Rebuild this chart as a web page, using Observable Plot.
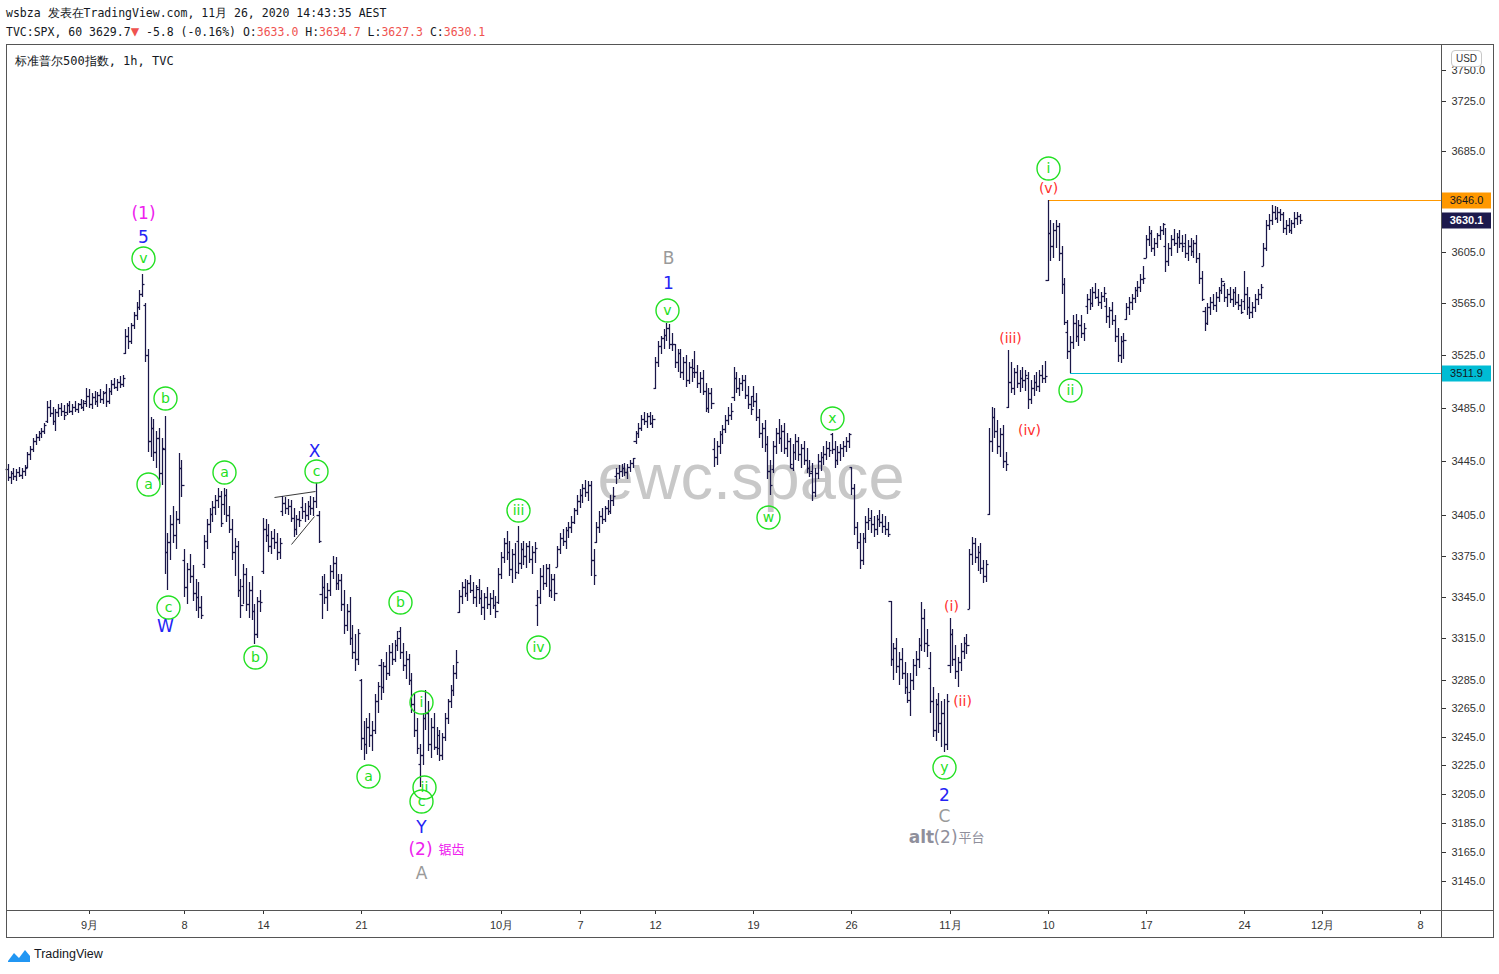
<!DOCTYPE html>
<html><head><meta charset="utf-8">
<script src="https://cdn.jsdelivr.net/npm/d3@7"></script>
<script src="https://cdn.jsdelivr.net/npm/@observablehq/plot@0.6"></script>
<style>
body{margin:0;background:#fff;}
#wrap{position:relative;width:1499px;height:974px;overflow:hidden;background:#fff;}
.mono{position:absolute;font:11.5px "DejaVu Sans Mono",monospace;color:#131722;white-space:pre;line-height:14px;}
.red{color:#ef5350;}
.box{position:absolute;box-sizing:border-box;}
</style></head>
<body><div id="wrap">
<div class="mono" style="left:6px;top:6px;">wsbza 发表在TradingView.com, 11月 26, 2020 14:43:35 AEST</div>
<div class="mono" style="left:6px;top:24px;">TVC:SPX, 60 3629.7<span class="red" style="font-size:14px;">▼</span> -5.8 (-0.16%) O:<span class="red">3633.0</span> H:<span class="red">3634.7</span> L:<span class="red">3627.3</span> C:<span class="red">3630.1</span></div>
<div id="chart"></div>
<div class="box" style="left:6px;top:44px;width:1488px;height:894px;border:1px solid #555;"></div>
<div class="box" style="left:1441px;top:44px;width:1px;height:894px;background:#555;"></div>
<div class="box" style="left:6px;top:910px;width:1488px;height:1px;background:#555;"></div>
<div class="mono" style="left:15px;top:54px;font-size:12px;">标准普尔500指数, 1h, TVC</div>
<div class="box" style="left:1451px;top:50px;width:31px;height:17px;border:1px solid #c8c8c8;border-radius:4px;background:#fff;font:10px 'Liberation Sans',Arial,sans-serif;color:#333;text-align:center;line-height:15px;">USD</div>
<div class="box" style="left:7px;top:947px;width:24px;height:16px;">
<svg width="24" height="16" viewBox="0 0 24 16"><path d="M1 14 L7 6 L12 11 L18 3 L23 9 L23 15 L1 15 Z" fill="#2196f3"/></svg></div>
<div class="box" style="left:34px;top:947px;font:12.5px 'Liberation Sans',Arial,sans-serif;color:#131722;">TradingView</div>
</div>
<script>
// hourly OHLC bars, Aug 25 – Nov 25 2020 (7 bars per session); index 0 = Aug 31 09:30 ET
const ohlc = [
// Aug 25
[3439,3443,3430,3433],[3433,3438,3428,3436],[3436,3440,3431,3434],[3434,3439,3430,3437],[3437,3441,3433,3435],[3435,3440,3432,3438],[3438,3442,3434,3440],
// Aug 26
[3441,3452,3440,3450],[3450,3456,3446,3454],[3454,3462,3452,3460],[3460,3465,3457,3463],[3463,3468,3460,3466],[3466,3470,3462,3468],[3468,3474,3465,3472],
// Aug 27
[3475,3490,3474,3486],[3486,3491,3478,3481],[3481,3486,3472,3475],[3475,3484,3468,3482],[3482,3488,3478,3485],[3485,3489,3479,3483],[3483,3487,3476,3480],
// Aug 28
[3482,3489,3480,3487],[3487,3490,3481,3483],[3483,3488,3480,3486],[3486,3490,3482,3484],[3484,3489,3481,3488],[3488,3492,3484,3486],[3486,3491,3483,3489],
// Aug 31
[3490,3500,3486,3494],[3494,3499,3485,3488],[3488,3496,3484,3493],[3493,3498,3487,3490],[3490,3497,3486,3495],[3495,3499,3489,3492],[3492,3498,3488,3496],
// Sep 1
[3497,3503,3486,3490],[3490,3500,3488,3498],[3498,3506,3495,3503],[3503,3508,3499,3501],[3501,3507,3498,3505],[3505,3509,3500,3503],[3503,3510,3501,3508],
// Sep 2
[3527,3545,3526,3540],[3540,3547,3530,3536],[3536,3550,3534,3548],[3548,3558,3545,3556],[3556,3566,3552,3562],[3562,3575,3560,3572],[3572,3588,3570,3580],
// Sep 3
[3564,3565,3520,3525],[3525,3530,3452,3460],[3460,3478,3448,3470],[3470,3477,3445,3452],[3452,3468,3440,3462],[3462,3470,3430,3436],[3436,3462,3427,3455],
// Sep 4
[3454,3479,3362,3378],[3378,3392,3350,3385],[3385,3405,3372,3398],[3398,3412,3384,3390],[3390,3408,3380,3402],[3402,3451,3398,3440],[3440,3446,3418,3427],
// Sep 8
[3372,3380,3345,3352],[3352,3370,3340,3365],[3365,3376,3355,3360],[3360,3368,3342,3348],[3348,3358,3335,3345],[3345,3356,3330,3338],[3338,3346,3329,3332],
// Sep 9
[3369,3390,3366,3386],[3386,3402,3380,3398],[3398,3410,3392,3406],[3406,3415,3400,3411],[3411,3420,3405,3416],[3416,3425,3410,3419],[3419,3423,3396,3399],
// Sep 10
[3413,3425,3405,3420],[3420,3424,3400,3405],[3405,3412,3392,3395],[3395,3402,3372,3378],[3378,3388,3360,3382],[3382,3386,3345,3350],[3350,3358,3330,3339],
// Sep 11
[3353,3369,3340,3362],[3362,3366,3335,3340],[3340,3356,3330,3350],[3350,3360,3328,3335],[3335,3340,3311,3318],[3318,3345,3315,3342],[3342,3350,3334,3341],
// Sep 14
[3364,3403,3362,3395],[3395,3402,3385,3390],[3390,3398,3378,3382],[3382,3393,3376,3388],[3388,3395,3380,3385],[3385,3392,3372,3378],[3378,3388,3373,3384],
// Sep 15
[3408,3419,3404,3414],[3414,3418,3406,3410],[3410,3417,3405,3412],[3412,3416,3400,3403],[3403,3410,3389,3395],[3395,3405,3390,3402],[3402,3408,3396,3401],
// Sep 16
[3411,3418,3402,3408],[3408,3414,3400,3405],[3405,3415,3401,3412],[3412,3419,3405,3410],[3410,3418,3404,3415],[3415,3429,3410,3405],[3405,3408,3384,3386],
// Sep 17
[3347,3360,3329,3352],[3352,3362,3340,3345],[3345,3355,3335,3350],[3350,3368,3346,3364],[3364,3375,3358,3370],[3370,3374,3350,3355],[3355,3362,3350,3357],
// Sep 18
[3357,3362,3335,3340],[3340,3350,3318,3325],[3325,3340,3320,3335],[3335,3345,3310,3315],[3315,3325,3300,3305],[3305,3318,3292,3300],[3300,3322,3296,3319],
// Sep 21
[3285,3286,3236,3244],[3244,3256,3229,3240],[3240,3258,3233,3252],[3252,3262,3238,3246],[3246,3256,3235,3250],[3250,3275,3247,3270],[3270,3284,3262,3281],
// Sep 22
[3296,3300,3271,3280],[3280,3298,3276,3295],[3295,3305,3285,3290],[3290,3310,3288,3305],[3305,3312,3296,3300],[3300,3314,3298,3310],[3310,3320,3306,3315],
// Sep 23
[3320,3323,3300,3305],[3305,3312,3292,3296],[3296,3306,3286,3300],[3300,3304,3282,3285],[3285,3290,3262,3268],[3268,3275,3245,3250],[3250,3258,3233,3237],
// Sep 24
[3226,3240,3210,3232],[3232,3262,3225,3258],[3258,3278,3250,3262],[3262,3270,3235,3240],[3240,3258,3230,3252],[3252,3262,3236,3238],[3238,3252,3232,3246],
// Sep 25
[3237,3250,3228,3232],[3232,3248,3229,3245],[3245,3262,3242,3258],[3258,3272,3254,3270],[3270,3282,3265,3278],[3278,3296,3274,3290],[3290,3307,3286,3298],
// Sep 28
[3334,3350,3333,3346],[3346,3356,3340,3352],[3352,3358,3345,3348],[3348,3357,3342,3355],[3355,3361,3348,3350],[3350,3356,3340,3345],[3345,3354,3338,3352],
// Sep 29
[3351,3358,3340,3344],[3344,3350,3332,3338],[3338,3348,3328,3345],[3345,3352,3336,3340],[3340,3348,3332,3344],[3344,3350,3336,3339],[3339,3346,3330,3335],
// Sep 30
[3341,3366,3340,3362],[3362,3378,3358,3374],[3374,3388,3370,3384],[3384,3393,3372,3378],[3378,3386,3360,3365],[3365,3380,3355,3376],[3376,3384,3358,3363],
// Oct 1
[3386,3397,3362,3370],[3370,3384,3365,3380],[3380,3386,3368,3375],[3375,3384,3366,3382],[3382,3386,3370,3373],[3373,3382,3362,3378],[3378,3385,3370,3381],
// Oct 2
[3339,3350,3324,3345],[3345,3366,3340,3360],[3360,3368,3350,3355],[3355,3369,3352,3366],[3366,3369,3345,3350],[3350,3362,3344,3358],[3358,3362,3342,3348],
// Oct 5
[3367,3382,3367,3380],[3380,3392,3376,3388],[3388,3395,3382,3386],[3386,3396,3380,3394],[3394,3400,3388,3396],[3396,3404,3392,3400],[3400,3410,3398,3409],
// Oct 6
[3409,3420,3405,3415],[3415,3424,3410,3420],[3420,3428,3414,3425],[3425,3431,3418,3422],[3422,3430,3415,3427],[3427,3430,3360,3372],[3372,3380,3354,3361],
// Oct 7
[3385,3400,3384,3396],[3396,3408,3392,3404],[3404,3410,3398,3402],[3402,3412,3400,3410],[3410,3416,3405,3408],[3408,3420,3406,3416],[3416,3426,3412,3419],
// Oct 8
[3434,3440,3428,3436],[3436,3442,3432,3438],[3438,3443,3433,3440],[3440,3444,3434,3437],[3437,3443,3432,3441],[3441,3446,3437,3444],[3444,3447,3440,3447],
// Oct 9
[3460,3468,3458,3466],[3466,3474,3462,3470],[3470,3480,3468,3477],[3477,3482,3472,3475],[3475,3481,3470,3479],[3479,3482,3472,3474],[3474,3480,3470,3477],
// Oct 12
[3500,3524,3499,3520],[3520,3536,3516,3532],[3532,3540,3526,3538],[3538,3545,3530,3541],[3541,3550,3536,3546],[3546,3549,3530,3534],[3534,3542,3528,3534],
// Oct 13
[3534,3534,3515,3520],[3520,3530,3512,3527],[3527,3530,3508,3512],[3512,3524,3506,3520],[3520,3525,3501,3506],[3506,3520,3503,3516],[3516,3522,3505,3512],
// Oct 14
[3515,3528,3508,3512],[3512,3518,3500,3504],[3504,3512,3496,3508],[3508,3514,3495,3498],[3498,3504,3482,3485],[3485,3500,3481,3496],[3496,3500,3484,3489],
// Oct 15
[3454,3462,3441,3448],[3448,3460,3442,3456],[3456,3468,3450,3465],[3465,3472,3458,3469],[3469,3480,3466,3476],[3476,3486,3472,3480],[3480,3489,3476,3483],
// Oct 16
[3493,3516,3490,3508],[3508,3512,3496,3500],[3500,3508,3494,3504],[3504,3510,3498,3506],[3506,3510,3492,3495],[3495,3502,3484,3488],[3488,3494,3480,3484],
// Oct 19
[3494,3502,3486,3490],[3490,3496,3475,3478],[3478,3484,3462,3466],[3466,3474,3455,3470],[3470,3476,3452,3458],[3458,3464,3432,3438],[3438,3446,3420,3427],
// Oct 20
[3439,3460,3436,3456],[3456,3470,3450,3466],[3466,3477,3458,3462],[3462,3472,3452,3468],[3468,3474,3450,3455],[3455,3466,3448,3460],[3460,3462,3440,3443],
// Oct 21
[3440,3458,3438,3452],[3452,3465,3446,3460],[3460,3463,3445,3450],[3450,3458,3440,3455],[3455,3460,3442,3446],[3446,3455,3436,3440],[3440,3446,3433,3436],
// Oct 22
[3438,3444,3415,3422],[3422,3440,3418,3436],[3436,3450,3432,3445],[3445,3452,3438,3448],[3448,3456,3442,3450],[3450,3460,3446,3455],[3455,3459,3448,3453],
// Oct 23
[3465,3466,3450,3454],[3454,3460,3440,3446],[3446,3456,3442,3452],[3452,3458,3445,3455],[3455,3460,3448,3456],[3456,3463,3452,3460],[3460,3466,3455,3465],
// Oct 26
[3441,3441,3420,3425],[3425,3428,3390,3396],[3396,3400,3380,3385],[3385,3392,3365,3372],[3372,3392,3368,3388],[3388,3404,3384,3400],[3400,3410,3394,3401],
// Oct 27
[3403,3409,3392,3398],[3398,3404,3389,3395],[3395,3405,3390,3402],[3402,3409,3396,3400],[3400,3406,3392,3397],[3397,3404,3390,3395],[3395,3400,3389,3391],
// Oct 28
[3342,3342,3295,3300],[3300,3312,3285,3308],[3308,3315,3290,3295],[3295,3305,3282,3300],[3300,3308,3286,3290],[3290,3298,3275,3280],[3280,3290,3269,3271],
// Oct 29
[3277,3290,3260,3285],[3285,3300,3278,3296],[3296,3306,3288,3300],[3300,3315,3294,3310],[3310,3341,3306,3330],[3330,3336,3305,3312],[3312,3322,3302,3310],
// Oct 30
[3294,3305,3262,3270],[3270,3280,3245,3250],[3250,3272,3242,3268],[3268,3276,3248,3255],[3255,3270,3238,3262],[3262,3272,3234,3240],[3240,3275,3236,3270],
// Nov 2
[3296,3330,3290,3318],[3318,3322,3295,3300],[3300,3310,3286,3292],[3292,3302,3280,3298],[3298,3312,3292,3306],[3306,3316,3300,3312],[3312,3318,3304,3310],
// Nov 3
[3336,3380,3336,3376],[3376,3389,3368,3384],[3384,3388,3370,3374],[3374,3382,3364,3378],[3378,3384,3362,3366],[3366,3372,3355,3360],[3360,3372,3356,3369],
// Nov 4
[3406,3470,3405,3460],[3460,3486,3452,3478],[3478,3485,3462,3468],[3468,3476,3450,3456],[3456,3470,3448,3465],[3465,3472,3440,3445],[3445,3452,3438,3443],
// Nov 5
[3486,3529,3485,3505],[3505,3520,3496,3500],[3500,3515,3495,3512],[3512,3518,3500,3504],[3504,3514,3497,3508],[3508,3516,3500,3506],[3506,3514,3498,3510],
// Nov 6
[3508,3512,3484,3492],[3492,3506,3488,3500],[3500,3510,3494,3505],[3505,3512,3498,3502],[3502,3514,3497,3510],[3510,3518,3504,3508],[3508,3521,3504,3509],
// Nov 9
[3583,3646,3582,3620],[3620,3630,3598,3610],[3610,3628,3600,3622],[3622,3630,3608,3625],[3625,3628,3598,3604],[3604,3610,3572,3580],[3580,3585,3548,3551],
// Nov 10
[3543,3552,3522,3528],[3528,3540,3511.9,3535],[3535,3556,3530,3550],[3550,3557,3535,3540],[3540,3552,3532,3548],[3548,3556,3538,3542],[3542,3550,3536,3546],
// Nov 11
[3563,3572,3557,3568],[3568,3576,3560,3565],[3565,3578,3562,3574],[3574,3581,3568,3570],[3570,3576,3563,3566],[3566,3574,3561,3571],[3571,3578,3566,3573],
// Nov 12
[3563,3569,3550,3555],[3555,3562,3546,3560],[3560,3566,3548,3552],[3552,3556,3535,3540],[3540,3546,3520,3525],[3525,3540,3519,3536],[3536,3542,3522,3537],
// Nov 13
[3553,3565,3552,3562],[3562,3570,3556,3566],[3566,3572,3560,3569],[3569,3578,3565,3575],[3575,3582,3570,3578],[3578,3588,3574,3584],[3584,3594,3580,3585],
// Nov 16
[3600,3618,3600,3615],[3615,3625,3610,3620],[3620,3622,3605,3608],[3608,3616,3602,3612],[3612,3620,3608,3618],[3618,3625,3614,3622],[3622,3628,3618,3627],
// Nov 17
[3610,3624,3589,3598],[3598,3612,3594,3608],[3608,3618,3602,3615],[3615,3623,3610,3612],[3612,3620,3604,3617],[3617,3622,3608,3612],[3612,3618,3605,3610],
// Nov 18
[3612,3619,3600,3604],[3604,3614,3598,3610],[3610,3616,3602,3606],[3606,3614,3600,3612],[3612,3618,3596,3600],[3600,3604,3580,3585],[3585,3590,3567,3568],
// Nov 19
[3559,3562,3544,3550],[3550,3565,3548,3562],[3562,3570,3556,3566],[3566,3572,3560,3564],[3564,3574,3558,3570],[3570,3578,3566,3575],[3575,3585,3572,3582],
// Nov 20
[3579,3581,3566,3570],[3570,3576,3562,3572],[3572,3578,3565,3568],[3568,3576,3562,3574],[3574,3578,3564,3566],[3566,3572,3560,3564],[3564,3568,3557,3558],
// Nov 23
[3567,3590,3560,3572],[3572,3578,3556,3562],[3562,3570,3553,3558],[3558,3566,3554,3562],[3562,3572,3558,3568],[3568,3576,3564,3572],[3572,3580,3568,3578],
// Nov 24
[3594,3612,3594,3608],[3608,3630,3606,3626],[3626,3635,3622,3630],[3630,3642,3626,3636],[3636,3641,3630,3632],[3632,3640,3628,3636],[3636,3639,3629,3635],
// Nov 25
[3635,3636,3620,3624],[3624,3630,3618,3626],[3626,3632,3620,3622],[3622,3630,3619,3628],[3628,3636,3624,3632],[3632,3636,3626,3633],[3633,3634.7,3627.3,3630.1]
];
const firstBarOffset = 28;

// axis ticks
const priceTicks = [3145,3165,3185,3205,3225,3245,3265,3285,3315,3345,3375,3405,3445,3485,3525,3565,3605,3685,3725,3750];
const timeTickBars = [1,35,63,98,148,176,203,238,273,308,343,378,413,441,476];
const timeTickLabels = ["9月","8","14","21","10月","7","12","19","26","11月","10","17","24","12月","8"];

// horizontal levels
const levelHigh = 3646.0, levelHighFrom = 343.1;
const levelLow = 3511.9, levelLowFrom = 351.0;
const lastPrice = 3630.1;

// wave labels: [text, bar index, price]
const greenCircled = [
  ["v",20.3,3600.3],["b",28.1,3492.5],["a",22.0,3427.9],["c",29.2,3337.6],
  ["a",49.2,3436.9],["c",82.0,3437.6],["b",60.2,3301.6],["a",100.5,3217.5],
  ["b",112.0,3341.3],["i",119.5,3269.5],["c",119.5,3200.1],["ii",120.5,3209.8],
  ["iii",154.0,3408.6],["iv",161.2,3308.8],["v",207.2,3559.8],["w",243.2,3403.5],
  ["x",266.0,3477.4],["y",306.0,3223.8],["i",343.1,3671.2],["ii",351.0,3498.6]
];
const blueLabels = [["5",20.3,3616.7],["W",28.1,3323.9],["X",81.3,3452.5],["Y",119.5,3182.1],["1",207.6,3580.7],["2",306.0,3204.3]];
const magentaLabels = [["(1)",20.3,3635.6],["(2)",119.2,3166.9]];
const magentaSmall = [["锯齿",130.2,3166.9]];
const grayLabels = [["A",119.5,3150.5],["B",207.6,3600.3],["C",306.0,3189.7]];
const altBold = [["alt",297.8,3175.2]];
const altMid = [["(2)",306.4,3175.2]];
const altSmall = [["平台",315.8,3175.2]];
const redLabels = [["(i)",308.6,3338.4],["(ii)",312.6,3270.3],["(iii)",329.6,3538.2],["(iv)",336.4,3468.3],["(v)",343.1,3655.3]];
const triangleLines = [[67.0,3418.3,81.6,3422.7],[73.1,3383.6,81.3,3404.2]];

const bars = ohlc.map((d,k)=>({i:k-firstBarOffset,o:d[0],h:d[1],l:d[2],c:d[3]}));
const barColor = "#1a1748";
const green = "#22e022", blue = "#2424f5", magenta = "#ee22ee", gray = "#9a9a9a", red = "#ff2d2d";
const font = "DejaVu Sans";
const xLeft = -28.61, xRight = 483.34, badgeRight = 501.2, badgeMid = 492.3;
const tickMap = new Map(timeTickBars.map((b,k)=>[b,timeTickLabels[k]]));
const toObj = arr => arr.map(d=>({t:d[0],i:d[1],p:d[2]}));

const chart = Plot.plot({
  width: 1499, height: 940,
  marginLeft: 6, marginRight: 58, marginTop: 44, marginBottom: 30,
  style: {fontFamily: "Liberation Sans, Arial, sans-serif", fontSize: "11px", background: "transparent", color: "#333"},
  x: {domain: [xLeft, xRight], round: true, axis: null},
  y: {type: "log", domain: [3125.3, 3771.4], round: true, axis: null},
  marks: [
    Plot.text(["ewc.space"], {frameAnchor: "middle", dx: 27, dy: 1, fontSize: 65, fill: "#c8c8c8", fontFamily: "Liberation Sans, Arial, sans-serif"}),
    Plot.axisY(priceTicks, {anchor: "right", label: null, tickSize: 4, tickPadding: 6, tickFormat: d => d.toFixed(1), fontSize: 11, color: "#333"}),
    Plot.axisX(timeTickBars, {anchor: "bottom", label: null, tickSize: 4, tickPadding: 7, tickFormat: d => tickMap.get(d), fontSize: 11, color: "#333"}),
    Plot.ruleY([levelHigh], {x1: levelHighFrom, x2: xRight, stroke: "#ff9800", strokeWidth: 1}),
    Plot.ruleY([levelLow], {x1: levelLowFrom, x2: xRight, stroke: "#00bcd4", strokeWidth: 1}),
    Plot.link(triangleLines, {x1: d=>d[0], y1: d=>d[1], x2: d=>d[2], y2: d=>d[3], stroke: "#3a3a3a", strokeWidth: 1}),
    Plot.ruleX(bars, {x: "i", y1: "l", y2: "h", stroke: barColor, strokeWidth: 1.25}),
    Plot.link(bars, {x1: d=>d.i-0.8, x2: "i", y1: "o", y2: "o", stroke: barColor, strokeWidth: 1.25}),
    Plot.link(bars, {x1: "i", x2: d=>d.i+0.8, y1: "c", y2: "c", stroke: barColor, strokeWidth: 1.25}),
    Plot.dot(toObj(greenCircled), {x: "i", y: "p", r: 11.5, stroke: green, fill: "none", strokeWidth: 1.4}),
    Plot.text(toObj(greenCircled), {x: "i", y: "p", text: "t", fill: green, fontSize: 14, fontFamily: font}),
    Plot.text(toObj(blueLabels), {x: "i", y: "p", text: "t", fill: blue, fontSize: 17, fontFamily: font}),
    Plot.text(toObj(magentaLabels), {x: "i", y: "p", text: "t", fill: magenta, fontSize: 17, fontFamily: font}),
    Plot.text(toObj(magentaSmall), {x: "i", y: "p", text: "t", fill: magenta, fontSize: 13, fontFamily: "Noto Sans CJK SC"}),
    Plot.text(toObj(grayLabels), {x: "i", y: "p", text: "t", fill: gray, fontSize: 17, fontFamily: font}),
    Plot.text(toObj(altBold), {x: "i", y: "p", text: "t", fill: "#8f8f9b", fontSize: 17, fontWeight: "bold", fontFamily: font}),
    Plot.text(toObj(altMid), {x: "i", y: "p", text: "t", fill: "#8f8f9b", fontSize: 17, fontFamily: font}),
    Plot.text(toObj(altSmall), {x: "i", y: "p", text: "t", fill: "#8f8f9b", fontSize: 13, fontFamily: "Noto Sans CJK SC"}),
    Plot.text(toObj(redLabels), {x: "i", y: "p", text: "t", fill: red, fontSize: 14, fontFamily: font}),
    Plot.ruleY([levelHigh], {x1: xRight, x2: badgeRight, stroke: "#ff9800", strokeWidth: 16}),
    Plot.text([levelHigh], {x: badgeMid, y: d=>d, text: d=>d.toFixed(1), fill: "#131722", fontSize: 11}),
    Plot.ruleY([lastPrice], {x1: xRight, x2: badgeRight, stroke: "#1d1a4d", strokeWidth: 16}),
    Plot.text([lastPrice], {x: badgeMid, y: d=>d, text: d=>d.toFixed(1), fill: "#fff", fontSize: 11, fontWeight: "bold"}),
    Plot.ruleY([levelLow], {x1: xRight, x2: badgeRight, stroke: "#00bcd4", strokeWidth: 16}),
    Plot.text([levelLow], {x: badgeMid, y: d=>d, text: d=>d.toFixed(1), fill: "#131722", fontSize: 11})
  ]
});
chart.style.position = "absolute";
chart.style.left = "0px";
chart.style.top = "0px";
document.getElementById("chart").appendChild(chart);
</script>
</body></html>
